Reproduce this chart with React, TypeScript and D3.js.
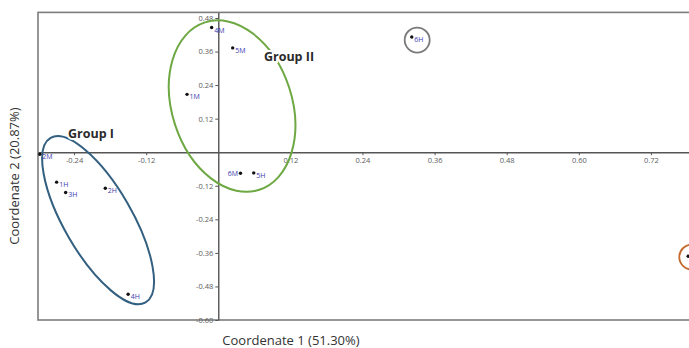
import { useRef, useEffect } from 'react'
import * as d3 from 'd3'

// PCoA scores (Coordenate 1, Coordenate 2)
const SAMPLE_LABELS = ['4M', '5M', '1M', '2M', '6M', '5H', '1H', '3H', '2H', '4H', '6H', '7H']
const COORD1 = [-0.011, 0.024, -0.052, -0.297, 0.037, 0.059, -0.269, -0.254, -0.188, -0.150, 0.322, 0.782]
const COORD2 = [0.446, 0.373, 0.207, -0.007, -0.075, -0.074, -0.107, -0.144, -0.129, -0.508, 0.412, -0.372]

const X_TICKS = [-0.24, -0.12, 0.12, 0.24, 0.36, 0.48, 0.6, 0.72]
const Y_TICKS = [0.48, 0.36, 0.24, 0.12, -0.12, -0.24, -0.36, -0.48, -0.6]

// group ellipses: centre in data units
const GROUP_NAMES = ['Group I', 'Group II']
const GROUP_CX = [-0.200, 0.023]
const GROUP_CY = [-0.243, 0.165]
const GROUP_LABEL_X = [-0.250, 0.076]
const GROUP_LABEL_Y = [0.051, 0.325]

// outlier circles
const OUTLIER_X = [0.331, 0.788]
const OUTLIER_Y = [0.401, -0.375]

const W = 689
const H = 348

function App() {
  const svgRef = useRef<SVGSVGElement>(null)

  useEffect(() => {
    if (!svgRef.current) return
    const svg = d3.select(svgRef.current)
    svg.selectAll('*').remove()

    const x = d3.scaleLinear().domain([-0.30, 0.80]).range([38, 699])
    const y = d3.scaleLinear().domain([-0.60, 0.50]).range([320, 12.4])
    const font = '"Open Sans", sans-serif'
    const fmt = (d: number) => d3.format('.2f')(d).replace('−', '-')

    // plot frame
    svg.append('rect')
      .attr('x', x(-0.30))
      .attr('y', y(0.50))
      .attr('width', x(0.80) - x(-0.30))
      .attr('height', y(-0.60) - y(0.50))
      .attr('fill', 'none')
      .attr('stroke', '#7c7c7c')
      .attr('stroke-width', 1.6)

    // X axis through y=0
    const xAxis = svg.append('g')
      .attr('transform', `translate(0,${y(0)})`)
      .call(d3.axisBottom(x).tickValues(X_TICKS).tickSize(3).tickSizeOuter(0).tickPadding(2))
    xAxis.select('.domain').attr('stroke', '#555').attr('stroke-width', 1.4)
    xAxis.selectAll('line').attr('stroke', '#555')
    xAxis.selectAll('text')
      .attr('fill', '#5c5c5c')
      .attr('font-size', '7.5px')
      .attr('font-family', font)
      .text(d => fmt(d as number))

    // Y axis through x=0
    const yAxis = svg.append('g')
      .attr('transform', `translate(${x(0)},0)`)
      .call(d3.axisLeft(y).tickValues(Y_TICKS).tickSize(3).tickSizeOuter(0).tickPadding(2))
    yAxis.select('.domain').attr('stroke', '#555').attr('stroke-width', 1.4)
    yAxis.selectAll('line').attr('stroke', '#555')
    yAxis.selectAll('text')
      .attr('fill', '#5c5c5c')
      .attr('font-size', '7.5px')
      .attr('font-family', font)
      .text(d => fmt(d as number))

    // group ellipses
    const ellipseStyle = [
      { color: '#335f80', rx: 34, ry: 95, rot: -30 },
      { color: '#6ea843', rx: 60, ry: 88, rot: -18 },
    ]
    GROUP_NAMES.forEach((_, i) => {
      const s = ellipseStyle[i]
      svg.append('ellipse')
        .attr('transform', `translate(${x(GROUP_CX[i])},${y(GROUP_CY[i])}) rotate(${s.rot})`)
        .attr('rx', s.rx)
        .attr('ry', s.ry)
        .attr('fill', 'none')
        .attr('stroke', s.color)
        .attr('stroke-width', 2)
    })

    // outlier circles
    const outlierColors = ['#7a7a7a', '#c46a2c']
    OUTLIER_X.forEach((ox, i) => {
      svg.append('circle')
        .attr('cx', x(ox))
        .attr('cy', y(OUTLIER_Y[i]))
        .attr('r', 12.5)
        .attr('fill', 'none')
        .attr('stroke', outlierColors[i])
        .attr('stroke-width', 1.8)
    })

    // points
    SAMPLE_LABELS.forEach((label, i) => {
      const px = x(COORD1[i])
      const py = y(COORD2[i])
      svg.append('circle')
        .attr('cx', px)
        .attr('cy', py)
        .attr('r', 1.7)
        .attr('fill', '#111')
      // label of the point at the right edge falls outside the picture
      if (px + 12 > W) return
      const left = label === '6M'
      svg.append('text')
        .attr('x', left ? px - 2.5 : px + 2.5)
        .attr('y', left ? py + 3 : py + 5)
        .attr('text-anchor', left ? 'end' : 'start')
        .attr('fill', '#3a3aae')
        .attr('font-size', '7px')
        .attr('font-family', font)
        .text(label)
    })

    // group labels
    GROUP_NAMES.forEach((name, i) => {
      svg.append('text')
        .attr('x', x(GROUP_LABEL_X[i]))
        .attr('y', y(GROUP_LABEL_Y[i]))
        .attr('fill', '#2a2a2a')
        .attr('font-size', '12.5px')
        .attr('font-weight', 'bold')
        .attr('font-family', font)
        .attr('stroke', '#fff')
        .attr('stroke-width', 4)
        .attr('paint-order', 'stroke')
        .text(name)
    })

    // axis titles
    svg.append('text')
      .attr('x', 291)
      .attr('y', 345)
      .attr('text-anchor', 'middle')
      .attr('fill', '#333')
      .attr('font-size', '13px')
      .attr('font-family', font)
      .text('Coordenate 1 (51.30%)')

    svg.append('text')
      .attr('transform', 'translate(19,176) rotate(-90)')
      .attr('text-anchor', 'middle')
      .attr('fill', '#333')
      .attr('font-size', '13px')
      .attr('font-family', font)
      .text('Coordenate 2 (20.87%)')
  }, [])

  return (
    <div style={{ position: 'fixed', left: 0, top: 0, width: W, height: H, background: '#fff' }}>
      <svg ref={svgRef} width={W} height={H} style={{ display: 'block' }} />
    </div>
  )
}

export default App
